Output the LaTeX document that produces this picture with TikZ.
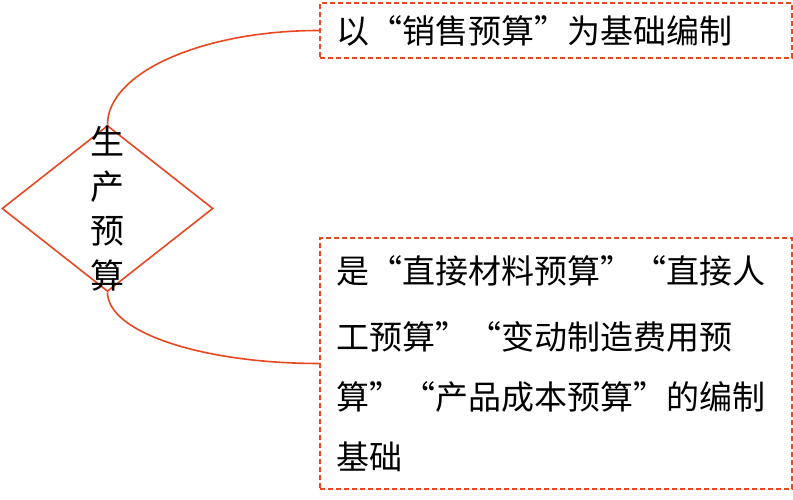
\documentclass[tikz,border=0pt]{standalone}
\usepackage{fontspec}
\setmainfont{Noto Sans CJK SC}
\usetikzlibrary{shapes.geometric,calc}
\definecolor{lineorange}{RGB}{231,72,32}
\begin{document}
\begin{tikzpicture}[x=1pt,y=1pt,
  conn/.style={draw=lineorange, line width=1.6pt},
  dbox/.style={draw=lineorange, line width=1.7pt, dash pattern=on 5pt off 3pt,
    inner sep=0pt, minimum width=472pt, text width=440pt, align=left,
    font=\fontsize{33}{60}\selectfont, text=black},
  diabox/.style={diamond, draw=lineorange, line width=1.6pt,
    minimum width=211pt, minimum height=166pt, inner sep=0pt},
  vtext/.style={font=\fontsize{34}{44.6}\selectfont, align=center, inner sep=0pt, text=black}
]
\useasboundingbox (0,0) rectangle (793,500);
\node (dia) [diabox] at (107.5,291.5) {};
\node (dtext) [vtext] at (dia.center) {生\\产\\预\\算};
\node (box1) [dbox, minimum height=55pt] at (556,469.5) {以“销售预算”为基础编制};
\node (box2) [dbox, minimum height=251pt] at (556,136.5)
  {\vspace*{6pt}是“直接材料预算”“直接人\\工预算”“变动制造费用预\\算”“产品成本预算”的编制\\基础};
\draw[conn] (dia.north) .. controls ($(dia.north)+(0,52)$) and ($(box1.west)+(-117,0)$) .. (box1.west);
\draw[conn] (dia.south) .. controls ($(dia.south)+(0,-40)$) and ($(box2.west)+(-117,0)$) .. (box2.west);
\end{tikzpicture}
\end{document}
